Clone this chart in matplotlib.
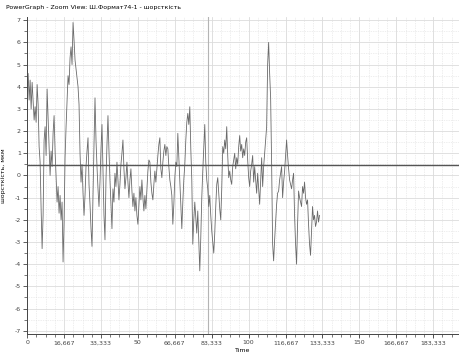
import numpy as np
import matplotlib
matplotlib.use("Agg")
import matplotlib.pyplot as plt
from matplotlib.ticker import FixedLocator, MultipleLocator

# roughness trace (one value per screen pixel column)
roughness = [
    3.8, 4.6, 3.4, 4.3, 3.0, 4.2, 3.3, 2.5, 3.1, 2.4,
    4.1, 3.2, 1.3, 0.6, -1.5, -3.3, -1.8, 1.6, 2.2, 0.9,
    3.9, 2.6, 1.2, 0.0, 1.1, 0.4, 1.9, 2.7, 1.1, -0.1,
    -1.2, -0.5, -1.7, -0.9, -2.0, -1.2, -3.9, -2.1, 0.8, 2.2,
    3.3, 4.5, 4.1, 5.3, 5.8, 5.0, 6.9, 6.1, 5.2, 4.8,
    4.4, 4.0, 3.2, 1.0, -0.3, 0.5, -0.8, -1.8, -0.9, 0.4,
    1.1, 1.7, -0.4, -1.3, -2.4, -3.2, -0.8, 1.4, 3.5, 1.6,
    0.4, -0.6, -1.4, -0.3, 1.2, 2.3, 0.2, -1.8, -2.9, -0.2,
    1.4, 2.7, 1.1, -0.2, -1.3, -2.4, -0.6, -1.2, 0.1, -0.5,
    0.6, -0.2, -1.1, -0.4, 0.5, 1.0, 1.6, 0.3, -0.6, -0.1,
    0.6, -0.3, -1.0, -0.2, 0.3, -0.7, -1.4, -0.8, -1.6, -1.0,
    -1.8, -2.2, -1.3, -0.5, -1.1, -0.2, -1.0, -1.6, -0.9, -1.5,
    -0.6, 0.2, 0.7, 0.6, -0.3, -0.8, -1.1, -0.4, 0.2, -0.3,
    0.3, 0.9, 1.4, 1.7, 0.3, -0.1, 0.6, 1.1, 1.4, 0.9,
    1.3, 1.2, 0.4, -0.2, -0.5, -0.9, -2.2, -1.3, -0.1, 0.6,
    0.4, 1.9, 0.8, -0.4, -1.5, -2.4, -1.2, -0.2, 0.5, 1.6,
    2.4, 2.8, 2.3, 3.1, 1.2, -0.2, -3.1, -2.0, -1.2, -1.9,
    -2.6, -1.6, -2.9, -4.3, -2.8, -1.0, 0.2, 1.2, 2.3, 0.6,
    -0.2, -0.6, -1.4, -0.9, -1.8, -2.5, -3.0, -3.5, -2.6, -1.4,
    -0.4, -0.1, -0.8, -1.5, -2.0, -0.6, 1.3, 1.0, 1.6, 1.2,
    2.2, 0.9, -0.1, 0.2, -0.2, -0.4, 0.4, 0.7, 1.0, 0.3,
    0.8, 0.5, 1.3, 1.8, 1.1, 1.4, 0.8, 1.2, 0.9, 1.5,
    1.7, 0.7, -0.1, -0.5, 0.2, 0.5, 0.9, -0.3, 0.4, -0.2,
    -0.8, 0.1, -0.6, -1.3, -0.2, 0.8, -0.5, 0.4, 1.0, 1.6,
    2.2, 5.0, 6.0, 4.6, 3.5, 0.5, -3.1, -3.85, -2.9, -2.1,
    -1.3, -0.8, -0.7, -0.2, 0.1, 0.4, -1.0, -0.3, 0.2, 0.9,
    1.6, 0.9, 0.3, -0.2, -0.4, -0.6, -0.2, 0.1, -1.8, -3.1,
    -4.0, -2.2, -0.7, -1.0, -1.2, -1.4, -0.5, -0.8, -0.3, -1.0,
    -1.3, -1.1, -2.2, -3.1, -3.6, -2.5, -1.4, -2.0, -1.8, -2.3,
    -2.1, -1.6, -2.1, -1.8,
]
t_end = 132.0
level = 0.45
cursor_time = 81.5

x_ticks = [0, 16.667, 33.333, 50, 66.667, 83.333, 100, 116.667,
           133.333, 150, 166.667, 183.333]
x_tick_labels = ["0", "16,667", "33,333", "50", "66,667", "83,333", "100",
                 "116,667", "133,333", "150", "166,667", "183,333"]
y_ticks = list(range(-7, 8))

title = "PowerGraph - Zoom View: Ш.Формат74-1 - шорсткість"
y_label = "шорсткість, мкм"
x_label = "Time"

plt.rcParams['font.family'] = ['Liberation Sans Narrow', 'DejaVu Sans']

fig = plt.figure(figsize=(4.6, 3.52), dpi=100)
ax = fig.add_axes([0.059, 0.051, 0.939, 0.901])

time = np.linspace(0, t_end, len(roughness))

# grid
ax.xaxis.set_major_locator(FixedLocator(x_ticks))
ax.xaxis.set_minor_locator(MultipleLocator(16.667 / 4))
ax.yaxis.set_major_locator(FixedLocator(y_ticks))
ax.yaxis.set_minor_locator(MultipleLocator(0.5))
ax.grid(which='major', color='#dcdcdc', lw=0.6, ls='-')
ax.grid(which='minor', color='#dedede', lw=0.5, ls=(0, (1, 1.5)))
ax.set_axisbelow(True)

ax.axvline(cursor_time, color='#b4b4b4', lw=0.8, zorder=1.5)
ax.plot(time, roughness, color='#6a6a6a', lw=0.6, zorder=2)
ax.axhline(level, color='#555555', lw=1.0, zorder=3)

ax.set_xlim(0, 195)
ax.set_ylim(-7.15, 7.15)

ax.set_xticklabels(x_tick_labels)
ax.set_yticklabels([str(v) for v in y_ticks])
ax.tick_params(which='major', direction='out', length=3, width=0.6,
               colors='#444444', labelsize=4.5, pad=1.5)
ax.tick_params(which='minor', direction='out', length=2, width=0.5,
               colors='#444444')

for side in ['top', 'right']:
    ax.spines[side].set_visible(False)
for side in ['left', 'bottom']:
    ax.spines[side].set_color('#444444')
    ax.spines[side].set_linewidth(0.7)

ax.set_xlabel(x_label, fontsize=4.5, labelpad=2)
ax.set_ylabel(y_label, fontsize=4.5, labelpad=6)
fig.text(0.012, 0.985, title, fontsize=4.5, ha='left', va='top')

fig.savefig("out.png", dpi=100)
